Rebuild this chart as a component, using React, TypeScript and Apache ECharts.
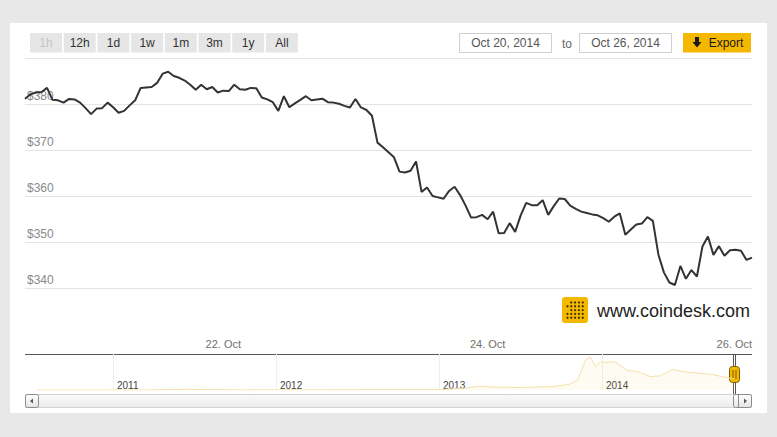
import React, { useEffect, useRef } from "react";
import * as echarts from "echarts";

// Hourly BTC price, hours counted from Oct 20 2014 00:00, first point at 12:00
const START_HOUR = 12;
const PRICES = [
  381.15, 382.1, 382.5, 382.6, 383.5, 380.9, 380.8, 380.3, 381.1, 381.0,
  380.3, 379.1, 377.8, 379.0, 379.1, 380.3, 379.3, 378.1, 378.5, 379.7,
  380.8, 383.5, 383.6, 383.7, 384.6, 386.6, 387.0, 386.1, 385.7, 385.1,
  384.2, 383.1, 384.2, 383.2, 383.7, 382.5, 382.9, 382.8, 384.2, 383.2,
  383.1, 383.5, 383.4, 381.4, 381.0, 380.4, 378.5, 381.7, 379.3, 380.15,
  380.9, 381.7, 380.8, 381.0, 381.15, 380.4, 380.3, 380.05, 379.6, 379.25,
  381.1, 379.25, 378.7, 377.45, 371.6, 370.6, 369.5, 368.4, 365.3, 365.1,
  365.5, 367.5, 360.9, 361.85, 360.0, 359.7, 359.4, 361.1, 362.0, 360.2,
  357.9, 355.3, 355.4, 355.9, 354.95, 356.6, 351.9, 351.95, 354.1, 352.2,
  355.8, 358.5, 358.0, 358.0, 359.1, 355.9, 357.8, 359.45, 359.35, 357.9,
  357.2, 356.6, 356.3, 356.0, 355.8, 355.2, 354.4, 355.5, 356.2, 351.6,
  352.7, 353.8, 354.0, 355.4, 354.6, 347.3, 343.4, 341.2, 340.65, 344.8,
  342.0, 343.9, 342.5, 349.0, 351.2, 347.2, 349.1, 347.0, 348.2, 348.3,
  348.1, 346.1, 346.6,
];
const X_LABEL_HOURS = [48, 96, 144];
const Y_MIN = 340;
const Y_MAX = 390;
const Y_STEP = 10;

// Navigator (full history), decimal years and price
const NAV_YEARS = [
  2010.534, 2010.9, 2011.2, 2011.45, 2011.6, 2011.8, 2012.0, 2012.3, 2012.6,
  2012.9, 2013.0, 2013.15, 2013.25, 2013.35, 2013.5, 2013.7, 2013.8, 2013.85,
  2013.9, 2013.93, 2013.96, 2013.99, 2014.02, 2014.08, 2014.15, 2014.22,
  2014.3, 2014.36, 2014.43, 2014.5, 2014.6, 2014.68, 2014.75, 2014.81,
];
const NAV_PRICES = [
  0.1, 0.3, 1, 25, 14, 3, 5, 5, 11, 12, 13, 60, 130, 100, 90, 120, 200, 350,
  1050, 1150, 815, 990, 960, 990, 700, 640, 465, 500, 720, 640, 584, 540, 450,
  400,
];
const NAV_YEAR_TICKS = [2011, 2012, 2013, 2014];

const RANGE_BUTTONS = ["1h", "12h", "1d", "1w", "1m", "3m", "1y", "All"];
const DATE_FROM = "Oct 20, 2014";
const DATE_TO = "Oct 26, 2014";
const SITE = "www.coindesk.com";

const FONT = "Liberation Sans, Arial, sans-serif";
const YELLOW = "#f5b800";

export default function App() {
  const ref = useRef<HTMLDivElement>(null);

  useEffect(() => {
    if (!ref.current) return;
    const chart = echarts.init(ref.current, null, { renderer: "svg" });

    const lineData = PRICES.map((v, i) => [START_HOUR + i, v]);
    const navData = NAV_YEARS.map((y, i) => [y, NAV_PRICES[i]]);

    const btnGrad = {
      type: "linear",
      x: 0,
      y: 0,
      x2: 0,
      y2: 1,
      colorStops: [
        { offset: 0, color: "#ffffff" },
        { offset: 1, color: "#e4e4e4" },
      ],
    };

    const graphics: any[] = [];
    RANGE_BUTTONS.forEach((b, i) => {
      const x = 30 + i * 33.7;
      graphics.push({
        type: "rect",
        shape: { x, y: 33, width: 32, height: 19.5 },
        style: { fill: "#e6e6e6" },
      });
      graphics.push({
        type: "text",
        x: x + 16,
        y: 43,
        style: {
          text: b,
          fill: i === 0 ? "#c4c4c4" : "#333",
          font: `12px ${FONT}`,
          align: "center",
          verticalAlign: "middle",
        },
      });
    });
    // date boxes
    [
      [459.5, DATE_FROM],
      [579.5, DATE_TO],
    ].forEach(([x, t]: any) => {
      graphics.push({
        type: "rect",
        shape: { x, y: 33.5, width: 92, height: 19 },
        style: { fill: "#fff", stroke: "#cfcfcf", lineWidth: 1 },
      });
      graphics.push({
        type: "text",
        x: x + 46,
        y: 43,
        style: {
          text: t,
          fill: "#555",
          font: `12px ${FONT}`,
          align: "center",
          verticalAlign: "middle",
        },
      });
    });
    graphics.push({
      type: "text",
      x: 567,
      y: 44,
      style: {
        text: "to",
        fill: "#666",
        font: `12px ${FONT}`,
        align: "center",
        verticalAlign: "middle",
      },
    });
    // export button
    graphics.push({
      type: "rect",
      shape: { x: 683, y: 33, width: 68, height: 19.5 },
      style: { fill: YELLOW },
    });
    graphics.push({
      type: "polygon",
      shape: {
        points: [
          [695, 37],
          [699, 37],
          [699, 42],
          [701.5, 42],
          [697, 47.5],
          [692.5, 42],
          [695, 42],
        ],
      },
      style: { fill: "#1a1a1a" },
    });
    graphics.push({
      type: "text",
      x: 726,
      y: 43,
      style: {
        text: "Export",
        fill: "#1a1a1a",
        font: `12px ${FONT}`,
        align: "center",
        verticalAlign: "middle",
      },
    });
    // logo
    graphics.push({
      type: "rect",
      shape: { x: 562, y: 297, width: 26, height: 26, r: 3 },
      style: { fill: YELLOW },
    });
    for (let r = 0; r < 5; r++) {
      for (let c = 0; c < 5; c++) {
        if (r === 0 && c === 0) continue;
        if (c === 0 && r === 2) continue;
        graphics.push({
          type: "circle",
          shape: { cx: 567.5 + c * 3.8, cy: 302.5 + r * 3.8, r: 1.1 },
          style: { fill: "#3a2c00" },
        });
      }
    }
    graphics.push({
      type: "text",
      x: 597,
      y: 310.5,
      style: {
        text: SITE,
        fill: "#222",
        font: `18px ${FONT}`,
        align: "left",
        verticalAlign: "middle",
      },
    });
    // navigator outline
    graphics.push({
      type: "line",
      shape: { x1: 25, y1: 354.5, x2: 752, y2: 354.5 },
      style: { stroke: "#555", lineWidth: 1 },
    });
    [733.5, 735.5].forEach((x) =>
      graphics.push({
        type: "line",
        shape: { x1: x, y1: 354.5, x2: x, y2: 394.5 },
        style: { stroke: "#555", lineWidth: 1 },
      })
    );
    graphics.push({
      type: "rect",
      shape: { x: 729.5, y: 366.5, width: 10, height: 16, r: 3 },
      style: { fill: YELLOW, stroke: "#7a5c00", lineWidth: 1 },
    });
    [733, 736].forEach((x) =>
      graphics.push({
        type: "line",
        shape: { x1: x, y1: 370, x2: x, y2: 379 },
        style: { stroke: "#7a5c00", lineWidth: 1 },
      })
    );
    // scrollbar
    graphics.push({
      type: "rect",
      shape: { x: 25.5, y: 394.5, width: 726, height: 13 },
      style: {
        fill: {
          type: "linear",
          x: 0,
          y: 0,
          x2: 0,
          y2: 1,
          colorStops: [
            { offset: 0, color: "#fafafa" },
            { offset: 1, color: "#ececec" },
          ],
        },
        stroke: "#d3d3d3",
        lineWidth: 1,
      },
    });
    graphics.push({
      type: "rect",
      shape: { x: 25.5, y: 394.5, width: 13, height: 13, r: 2 },
      style: { fill: btnGrad, stroke: "#8c8c8c", lineWidth: 1 },
    });
    graphics.push({
      type: "polygon",
      shape: {
        points: [
          [33, 398.5],
          [33, 403.5],
          [30, 401],
        ],
      },
      style: { fill: "#555" },
    });
    graphics.push({
      type: "rect",
      shape: { x: 733.5, y: 394.5, width: 18, height: 13, r: 2 },
      style: { fill: btnGrad, stroke: "#8c8c8c", lineWidth: 1 },
    });
    graphics.push({
      type: "line",
      shape: { x1: 738.5, y1: 394.5, x2: 738.5, y2: 407.5 },
      style: { stroke: "#8c8c8c", lineWidth: 1 },
    });
    graphics.push({
      type: "polygon",
      shape: {
        points: [
          [744, 398.5],
          [744, 403.5],
          [747, 401],
        ],
      },
      style: { fill: "#555" },
    });

    chart.setOption({
      animation: false,
      backgroundColor: "transparent",
      textStyle: { fontFamily: FONT },
      grid: [
        { left: 25, width: 727, top: 58, height: 230 },
        { left: 37, width: 697, top: 354, height: 36 },
      ],
      xAxis: [
        {
          type: "value",
          gridIndex: 0,
          min: START_HOUR,
          max: START_HOUR + PRICES.length - 1,
          axisLine: { show: false },
          axisTick: { show: false, customValues: X_LABEL_HOURS },
          splitLine: { show: false },
          axisLabel: {
            customValues: X_LABEL_HOURS,
            margin: 50,
            color: "#707070",
            fontSize: 11,
            fontFamily: FONT,
            alignMaxLabel: "right",
            formatter: (v: number) => `${20 + Math.round(v / 24)}. Oct`,
          },
        },
        {
          type: "value",
          gridIndex: 1,
          min: NAV_YEARS[0],
          max: NAV_YEARS[NAV_YEARS.length - 1],
          axisLine: { show: false },
          axisTick: { show: false, customValues: NAV_YEAR_TICKS },
          splitLine: { show: true, lineStyle: { color: "#efefef", width: 1 } },
          axisLabel: {
            customValues: NAV_YEAR_TICKS,
            margin: -10,
            align: "left",
            padding: [0, 0, 0, 4],
            color: "#444",
            fontSize: 10,
            fontFamily: FONT,
            formatter: (v: number) => String(Math.round(v)),
          },
        },
      ],
      yAxis: [
        {
          type: "value",
          gridIndex: 0,
          min: Y_MIN,
          max: Y_MAX,
          interval: Y_STEP,
          axisLine: { show: false },
          axisTick: { show: false },
          splitLine: { lineStyle: { color: "#e4e4e4", width: 1 } },
          axisLabel: {
            inside: true,
            margin: 2,
            verticalAlign: "bottom",
            padding: [0, 0, 2, 0],
            color: "#8a8a8a",
            fontSize: 12,
            fontFamily: FONT,
            formatter: (v: number) => (v >= Y_MAX ? "" : `$${v}`),
          },
        },
        {
          type: "value",
          gridIndex: 1,
          min: 0,
          max: 1260,
          show: false,
          splitLine: { show: false },
        },
      ],
      series: [
        {
          type: "line",
          xAxisIndex: 0,
          yAxisIndex: 0,
          data: lineData,
          showSymbol: false,
          symbol: "none",
          lineStyle: { color: "#333", width: 2 },
          z: 3,
        },
        {
          type: "line",
          xAxisIndex: 1,
          yAxisIndex: 1,
          data: navData,
          showSymbol: false,
          symbol: "none",
          lineStyle: { color: "#f4e1a6", width: 1 },
          areaStyle: { color: "rgba(245,200,70,0.10)" },
        },
      ],
      graphic: { elements: graphics },
    });

    return () => chart.dispose();
  }, []);

  return (
    <div
      style={{
        position: "fixed",
        left: 0,
        top: 0,
        width: 777,
        height: 437,
        background: "#e8e8e8",
      }}
    >
      <div
        style={{
          position: "absolute",
          left: 10,
          top: 23,
          width: 757,
          height: 390,
          background: "#ffffff",
        }}
      />
      <div
        ref={ref}
        style={{ position: "absolute", left: 0, top: 0, width: 777, height: 437 }}
      />
    </div>
  );
}
